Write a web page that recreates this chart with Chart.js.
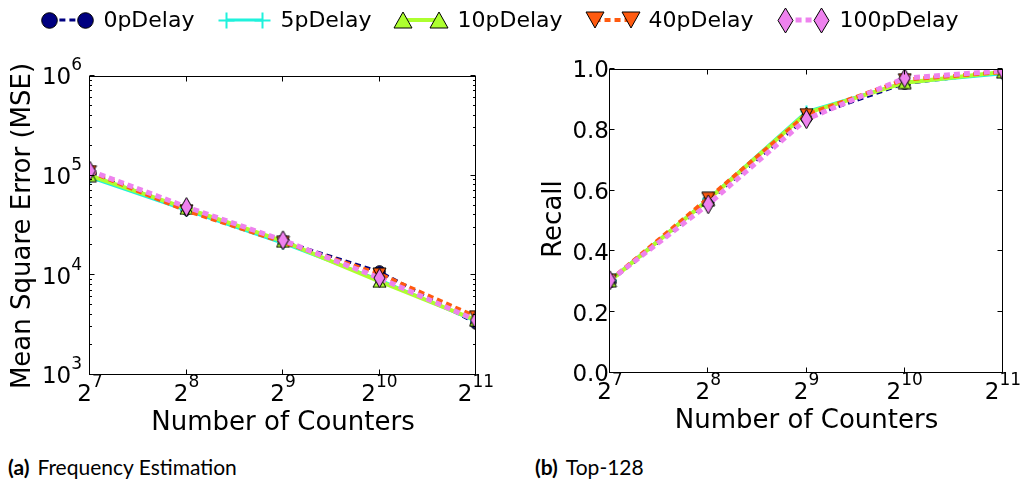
<!DOCTYPE html>
<html>
<head>
<meta charset="utf-8">
<script src="https://cdn.jsdelivr.net/npm/chart.js@4.4.1/dist/chart.umd.min.js"></script>
<style>
  html, body { margin: 0; padding: 0; background: #fff; }
  body { width: 1022px; height: 483px; position: relative; overflow: hidden; font-family: "DejaVu Sans", sans-serif; }
  #legend { position: absolute; left: 0; top: 0; }
  .panel { position: absolute; top: 0; width: 511px; height: 440px; }
  .cap { position: absolute; top: 454px; font-family: Lato, sans-serif; font-size: 21px; color: #000; white-space: nowrap; }
  .cap b { margin-right: 8px; }
</style>
</head>
<body>
<canvas id="legend" width="1022" height="42"></canvas>
<div class="panel" style="left:0"><canvas id="mse" width="511" height="440"></canvas></div>
<div class="panel" style="left:511px"><canvas id="recall" width="511" height="440"></canvas></div>
<div class="cap" style="left:8px"><b>(a)</b>Frequency Estimation</div>
<div class="cap" style="left:535px"><b>(b)</b>Top-128</div>

<script>
// Number of counters (x axis, powers of two)
const counters = [128, 256, 512, 1024, 2048];
const counterExps = ['7', '8', '9', '10', '11'];

// Series names
const seriesNames = ['0pDelay', '5pDelay', '10pDelay', '40pDelay', '100pDelay'];

// Mean square error per delay setting
const mse0p   = [105000, 46000, 22000, 10900, 3300];
const mse5p   = [96000, 45000, 21000, 9000, 3450];
const mse10p  = [100000, 47000, 22000, 8700, 3550];
const mse40p  = [110000, 44500, 21500, 10300, 3850];
const mse100p = [112000, 48500, 22500, 9400, 3550];

// Recall of the top-128 items per delay setting
const rec0p   = [0.300, 0.565, 0.840, 0.952, 0.990];
const rec5p   = [0.305, 0.572, 0.860, 0.955, 0.984];
const rec10p  = [0.303, 0.570, 0.855, 0.955, 0.990];
const rec40p  = [0.305, 0.575, 0.850, 0.965, 0.990];
const rec100p = [0.305, 0.555, 0.835, 0.970, 0.994];

// Tick labels
const mseTickExps = ['3', '4', '5', '6'];
const recallTicks = ['0.0', '0.2', '0.4', '0.6', '0.8', '1.0'];

// ---------- marker sprites ----------
const markerColors = ['#000080', '#1ff2dc', '#adff2f', '#ff5a0f', '#ee82ee'];

function makeMarker(kind, s) {
  const shapes = {
    circle:  [13, 13], plus: [13, 13], triUp: [15, 14], triDown: [15, 14], diamond: [13, 21]
  };
  const [bw, bh] = shapes[kind];
  const w = Math.round(bw * s), h = Math.round(bh * s);
  const c = document.createElement('canvas');
  c.width = w; c.height = h;
  const g = c.getContext('2d');
  g.lineWidth = 1;
  g.strokeStyle = '#000';
  g.beginPath();
  if (kind === 'circle') {
    g.arc(w / 2, h / 2, w / 2 - 0.7, 0, Math.PI * 2);
    g.fillStyle = markerColors[0];
  } else if (kind === 'plus') {
    g.strokeStyle = markerColors[1];
    g.lineWidth = 2;
    g.moveTo(w / 2, 0.5); g.lineTo(w / 2, h - 0.5);
    g.moveTo(0.5, h / 2); g.lineTo(w - 0.5, h / 2);
    g.stroke();
    return c;
  } else if (kind === 'triUp') {
    g.moveTo(w / 2, 1); g.lineTo(w - 1, h - 1); g.lineTo(1, h - 1); g.closePath();
    g.fillStyle = markerColors[2];
  } else if (kind === 'triDown') {
    g.moveTo(1, 1); g.lineTo(w - 1, 1); g.lineTo(w / 2, h - 1); g.closePath();
    g.fillStyle = markerColors[3];
  } else {
    g.moveTo(w / 2, 1); g.lineTo(w - 1, h / 2); g.lineTo(w / 2, h - 1); g.lineTo(1, h / 2); g.closePath();
    g.fillStyle = markerColors[4];
  }
  g.fill();
  g.stroke();
  return c;
}
const markerKinds = ['circle', 'plus', 'triUp', 'triDown', 'diamond'];
const markers = markerKinds.map((k) => makeMarker(k, 1));
const legendMarkers = markerKinds.map((k) => makeMarker(k, 1.3));

const lineStyles = [
  { color: '#000080', width: 3, dash: [6, 4] },
  { color: '#1ff2dc', width: 3, dash: [] },
  { color: '#adff2f', width: 4, dash: [] },
  { color: '#ff5a0f', width: 4, dash: [6, 4] },
  { color: '#ee82ee', width: 5, dash: [6, 4] }
];

function makeDatasets(seriesList) {
  return seriesList.map((vals, i) => ({
    label: seriesNames[i],
    data: counters.map((c, k) => ({ x: c, y: vals[k] })),
    borderColor: lineStyles[i].color,
    backgroundColor: lineStyles[i].color,
    borderWidth: lineStyles[i].width,
    borderDash: lineStyles[i].dash,
    pointStyle: markers[i],
    pointRadius: 6,
    pointHoverRadius: 6,
    tension: 0,
    fill: false,
    order: seriesList.length - 1 - i
  }));
}

// ---------- axes: frame, inward ticks and mathtext-like labels ----------
const BASE_FONT = '23px "DejaVu Sans"';
const EXP_FONT = '17px "DejaVu Sans"';

function powLabel(ctx, base, exp, x, baseline, align) {
  ctx.font = BASE_FONT;
  const wb = ctx.measureText(base).width;
  ctx.font = EXP_FONT;
  const we = ctx.measureText(exp).width;
  const x0 = align === 'center' ? x - (wb + we) / 2 : x - (wb + we);
  ctx.textAlign = 'left';
  ctx.textBaseline = 'alphabetic';
  ctx.font = BASE_FONT;
  ctx.fillText(base, x0, baseline);
  ctx.font = EXP_FONT;
  ctx.fillText(exp, x0 + wb, baseline - 14);
}

const axesPlugin = {
  id: 'axesFrame',
  afterDraw(chart, args, opts) {
    const { ctx, chartArea: a, scales: { x, y } } = chart;
    const L = Math.round(a.left) - 0.5, R = Math.round(a.right) - 0.5;
    const T = Math.round(a.top) + 0.5, B = Math.round(a.bottom) - 0.5;
    ctx.save();
    ctx.strokeStyle = '#000';
    ctx.lineWidth = 1;
    ctx.beginPath();

    // x ticks (top and bottom, inward)
    counters.forEach((c) => {
      const px = Math.round(x.getPixelForValue(c)) - 0.5;
      ctx.moveTo(px, B); ctx.lineTo(px, B - 5);
      ctx.moveTo(px, T); ctx.lineTo(px, T + 5);
    });

    // y ticks (left and right, inward)
    const yMajor = opts.yMajor, yMinor = opts.yMinor || [];
    yMajor.forEach((v) => {
      const py = Math.round(y.getPixelForValue(v)) - 0.5;
      ctx.moveTo(L, py); ctx.lineTo(L + 5, py);
      ctx.moveTo(R, py); ctx.lineTo(R - 5, py);
    });
    yMinor.forEach((v) => {
      const py = Math.round(y.getPixelForValue(v)) - 0.5;
      ctx.moveTo(L, py); ctx.lineTo(L + 2.5, py);
      ctx.moveTo(R, py); ctx.lineTo(R - 2.5, py);
    });
    ctx.stroke();
    ctx.strokeRect(L, T, R - L, B - T);

    // tick labels
    ctx.fillStyle = '#000';
    counters.forEach((c, i) => {
      powLabel(ctx, '2', counterExps[i], x.getPixelForValue(c), a.bottom + 25.5, 'center');
    });
    yMajor.forEach((v, i) => {
      const py = y.getPixelForValue(v);
      if (opts.yLog) {
        powLabel(ctx, '10', opts.yLabels[i], a.left - 8, py + 8.4, 'right');
      } else {
        ctx.font = BASE_FONT;
        ctx.textAlign = 'right';
        ctx.textBaseline = 'alphabetic';
        ctx.fillText(opts.yLabels[i], a.left - 1, py + 8.4);
      }
    });

    // axis titles
    ctx.font = '26px "DejaVu Sans"';
    ctx.textAlign = 'center';
    ctx.textBaseline = 'alphabetic';
    ctx.fillText('Number of Counters', (a.left + a.right) / 2, a.bottom + 55);
    ctx.save();
    ctx.translate(opts.yTitleX, opts.yTitleY);
    ctx.rotate(-Math.PI / 2);
    ctx.fillText(opts.yTitle, 0, 0);
    ctx.restore();
    ctx.restore();
  }
};

function baseOptions(padding) {
  return {
    responsive: false,
    animation: false,
    devicePixelRatio: 1,
    layout: { padding },
    plugins: { legend: { display: false }, tooltip: { enabled: false } },
    events: []
  };
}

// ---------- (a) frequency estimation ----------
const mseMajor = [1e3, 1e4, 1e5, 1e6];
const mseMinor = [];
for (let e = 3; e < 6; e++) for (let m = 2; m <= 9; m++) mseMinor.push(m * Math.pow(10, e));

const optA = baseOptions({ left: 90, top: 76, right: 35, bottom: 65 });
optA.scales = {
  x: { type: 'logarithmic', min: 128, max: 2048, display: false },
  y: { type: 'logarithmic', min: 1e3, max: 1e6, display: false }
};
optA.plugins.axesFrame = {
  yMajor: mseMajor, yMinor: mseMinor, yLog: true, yLabels: mseTickExps,
  yTitle: 'Mean Square Error (MSE)', yTitleX: 30, yTitleY: 226
};
new Chart(document.getElementById('mse'), {
  type: 'line',
  data: { datasets: makeDatasets([mse0p, mse5p, mse10p, mse40p, mse100p]) },
  options: optA,
  plugins: [axesPlugin]
});

// ---------- (b) top-128 recall ----------
const optB = baseOptions({ left: 99, top: 69, right: 19, bottom: 67 });
optB.scales = {
  x: { type: 'logarithmic', min: 128, max: 2048, display: false },
  y: { type: 'linear', min: 0, max: 1, display: false }
};
optB.plugins.axesFrame = {
  yMajor: [0, 0.2, 0.4, 0.6, 0.8, 1.0], yLog: false, yLabels: recallTicks,
  yTitle: 'Recall', yTitleX: 561 - 511, yTitleY: 219
};
new Chart(document.getElementById('recall'), {
  type: 'line',
  data: { datasets: makeDatasets([rec0p, rec5p, rec10p, rec40p, rec100p]) },
  options: optB,
  plugins: [axesPlugin]
});

// ---------- shared legend ----------
(function drawLegend() {
  const ctx = document.getElementById('legend').getContext('2d');
  const font = '22px "DejaVu Sans"';
  ctx.font = font;
  const handle = 52, pad = 10, gap = 24, cy = 20;
  const widths = seriesNames.map((n) => ctx.measureText(n).width);
  const total = widths.reduce((s, w) => s + handle + pad + w, 0) + gap * (seriesNames.length - 1);
  let x = 500 - total / 2;
  seriesNames.forEach((name, i) => {
    const st = lineStyles[i];
    const x0 = x + 8, x1 = x + handle - 8;
    ctx.save();
    ctx.strokeStyle = st.color;
    ctx.lineWidth = st.width;
    ctx.setLineDash(st.dash);
    ctx.beginPath(); ctx.moveTo(x0, cy); ctx.lineTo(x1, cy); ctx.stroke();
    ctx.restore();
    const m = legendMarkers[i];
    ctx.drawImage(m, Math.round(x0 - m.width / 2), Math.round(cy - m.height / 2));
    ctx.drawImage(m, Math.round(x1 - m.width / 2), Math.round(cy - m.height / 2));
    ctx.font = font;
    ctx.fillStyle = '#000';
    ctx.textBaseline = 'middle';
    ctx.fillText(name, x + handle + pad, cy + 1);
    x += handle + pad + widths[i] + gap;
  });
})();
</script>
</body>
</html>
